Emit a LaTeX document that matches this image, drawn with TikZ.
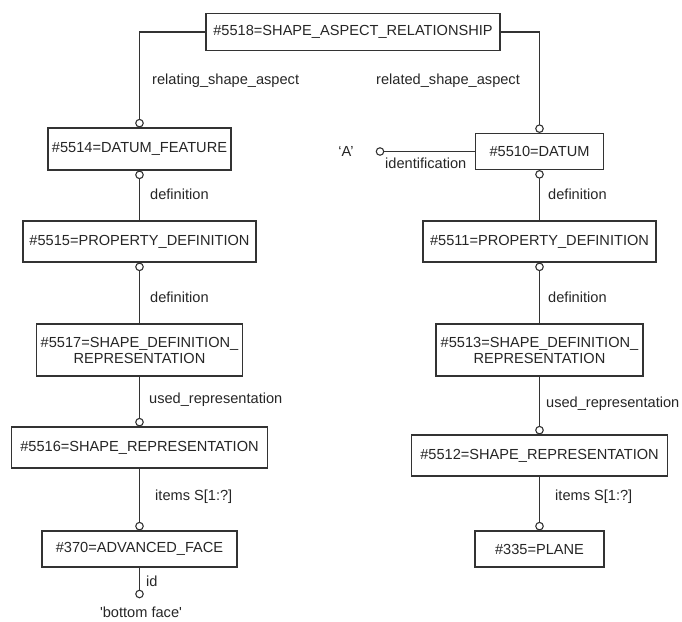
\documentclass[tikz,border=0pt]{standalone}
\usepackage{fontspec}
\setmainfont{Liberation Sans}
\begin{document}
\begin{tikzpicture}[x=1pt,y=-1pt,
  every node/.style={font=\fontsize{14.6}{16}\selectfont, text=black!85},
  ent/.style={draw=black!80, line width=1.1pt, fill=white, inner sep=0pt, align=center, minimum height=#1},
  ent/.default=41pt,
  lbl/.style={anchor=west, inner sep=0pt},
  dot/.style={circle, draw=black!80, line width=1.1pt, fill=white, minimum size=7.5pt, inner sep=0pt},
  conn/.style={draw=black!80, line width=1.3pt}]
\useasboundingbox (0,0) rectangle (682,621);
% entities
\node[ent=37pt, minimum width=294pt] (rel) at (353,32) {\#5518=SHAPE\_ASPECT\_RELATIONSHIP};
\node[ent=42pt, minimum width=183pt] (df) at (139.5,149) {\#5514=DATUM\_FEATURE};
\node[ent=36pt, minimum width=128pt] (dt) at (539.5,151.5) {\#5510=DATUM};
\node[ent, minimum width=233pt] (pd1) at (139.5,241.5) {\#5515=PROPERTY\_DEFINITION};
\node[ent, minimum width=233pt] (pd2) at (539.5,241.5) {\#5511=PROPERTY\_DEFINITION};
\node[ent=52pt, minimum width=206pt] (sdr1) at (139.5,350) {\#5517=SHAPE\_DEFINITION\_\\REPRESENTATION};
\node[ent=52pt, minimum width=207pt] (sdr2) at (539.5,350) {\#5513=SHAPE\_DEFINITION\_\\REPRESENTATION};
\node[ent, minimum width=256pt] (sr1) at (139.5,447.5) {\#5516=SHAPE\_REPRESENTATION};
\node[ent, minimum width=256pt] (sr2) at (539.5,455.5) {\#5512=SHAPE\_REPRESENTATION};
\node[ent=36pt, minimum width=195pt] (af) at (139.5,549) {\#370=ADVANCED\_FACE};
\node[ent=36pt, minimum width=129pt] (pl) at (539.5,549) {\#335=PLANE};
% value nodes
\node[inner sep=0pt] (va) at (346,151) {‘A’};
\node[inner sep=0pt] (vb) at (141,612) {\textquotesingle bottom face\textquotesingle};
% connectors
\draw[conn] (rel.west) -| (df.north);
\draw[conn] (rel.east) -| (dt.north);
\draw[conn] (df.south) -- (df.south |- pd1.north);
\draw[conn] (dt.south) -- (dt.south |- pd2.north);
\draw[conn] (pd1.south) -- (pd1.south |- sdr1.north);
\draw[conn] (pd2.south) -- (pd2.south |- sdr2.north);
\draw[conn] (sdr1.south) -- (sdr1.south |- sr1.north);
\draw[conn] (sdr2.south) -- (sdr2.south |- sr2.north);
\draw[conn] (sr1.south) -- (sr1.south |- af.north);
\draw[conn] (sr2.south) -- (sr2.south |- pl.north);
\coordinate (ca) at (380,151.5);
\coordinate (cb) at (139.5,594);
\draw[conn] (dt.west) -- (ca);
\draw[conn] (af.south) -- (cb);
% circles
\node[dot, anchor=south] at (df.north) {};
\node[dot, anchor=south] at (dt.north) {};
\node[dot, anchor=north] at (df.south) {};
\node[dot, anchor=north] at (dt.south) {};
\node[dot, anchor=north] at (pd1.south) {};
\node[dot, anchor=north] at (pd2.south) {};
\node[dot, anchor=south] at (sr1.north) {};
\node[dot, anchor=south] at (sr2.north) {};
\node[dot, anchor=south] at (af.north) {};
\node[dot, anchor=south] at (pl.north) {};
\node[dot] at (ca) {};
\node[dot] at (cb) {};
% labels
\node[lbl] (l1) at (152,81) {relating\_shape\_aspect};
\node[lbl] (l2) at (376,81) {related\_shape\_aspect};
\node[lbl] (l3) at (385,163) {identification};
\node[lbl] (l4) at (150,194) {definition};
\node[lbl] (l5) at (548,194) {definition};
\node[lbl] (l6) at (150,297) {definition};
\node[lbl] (l7) at (548,297) {definition};
\node[lbl] (l8) at (149,400) {used\_representation};
\node[lbl] (l9) at (546,404) {used\_representation};
\node[lbl] (l10) at (155,497) {items S[1:?]};
\node[lbl] (l11) at (555,497) {items S[1:?]};
\node[lbl] (l12) at (146,581) {id};
\end{tikzpicture}
\end{document}
